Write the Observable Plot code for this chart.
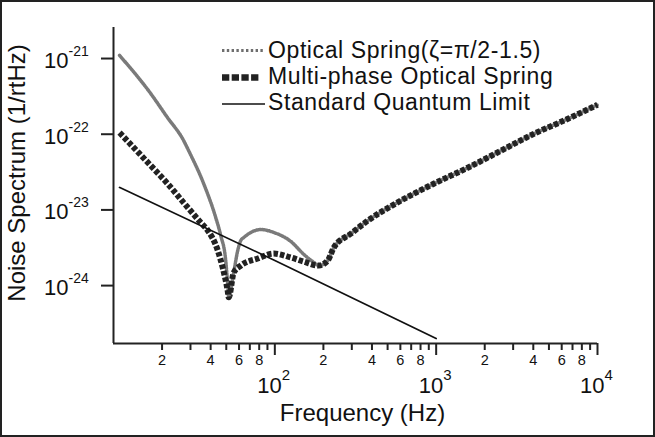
<!DOCTYPE html>
<html><head><meta charset="utf-8">
<script src="https://cdn.jsdelivr.net/npm/d3@7"></script>
<script src="https://cdn.jsdelivr.net/npm/@observablehq/plot@0.6"></script>
<style>
html,body{margin:0;padding:0;background:#fff;}
#wrap{position:relative;width:655px;height:437px;overflow:hidden;font-family:"Liberation Sans",Arial,Helvetica,sans-serif;}
#wrap svg{display:block;}
#legend{position:absolute;left:0;top:0;pointer-events:none;}
#border{position:absolute;left:0;top:0;width:655px;height:437px;box-sizing:border-box;border:2px solid #222;pointer-events:none;}
</style></head><body>
<div id="wrap"><div id="chart"></div><svg id="legend" width="655" height="437"></svg><div id="border"></div></div>
<script>
// Optical Spring (zeta = pi/2 - 1.5)
const freqOS = [10.9, 17, 21.6, 27.2, 29.2, 36.2, 43.0, 46.2, 49.6, 51.0, 51.8, 55.6, 58.9, 61.5, 64.2, 71.0, 81.8, 98.6, 125.7, 151.4, 174.7, 187.6, 213, 232, 297, 378, 606, 972, 1580, 2535, 4063, 6607, 10000];
const specOS = [1.10e-21, 3.45e-22, 1.66e-22, 8.26e-23, 6.09e-23, 2.23e-23, 7.94e-24, 4.6e-24, 2.15e-24, 1.07e-24, 7.1e-25, 1.49e-24, 2.91e-24, 3.94e-24, 4.32e-24, 5.03e-24, 5.51e-24, 5.03e-24, 3.83e-24, 2.58e-24, 2.02e-24, 1.84e-24, 2.15e-24, 3.18e-24, 4.88e-24, 7.24e-24, 1.33e-23, 2.23e-23, 3.63e-23, 6.09e-23, 1.02e-22, 1.61e-22, 2.45e-22];
// Multi-phase Optical Spring
const freqMP = [10.9, 13.7, 17, 21.6, 27.2, 34.7, 38.4, 44.3, 47.5, 51.0, 51.8, 55.6, 61.5, 78.4, 98.6, 125.7, 151.4, 187.6, 213, 232, 297, 378, 606, 972, 1580, 2535, 4063, 6607, 10000];
const specMP = [1.05e-22, 6.28e-23, 3.86e-23, 2.23e-23, 1.25e-23, 6.82e-24, 5.35e-24, 2.91e-24, 1.73e-24, 8.6e-25, 7.0e-25, 1.49e-24, 1.84e-24, 2.28e-24, 2.65e-24, 2.35e-24, 2.07e-24, 1.84e-24, 2.15e-24, 3.18e-24, 4.88e-24, 7.24e-24, 1.33e-23, 2.23e-23, 3.63e-23, 6.09e-23, 1.02e-22, 1.61e-22, 2.45e-22];
// Standard Quantum Limit
const freqSQL = [10.9, 100, 1000];
const specSQL = [1.98e-23, 2.15e-24, 2.0e-25];

const yTicks = [1e-21, 1e-22, 1e-23, 1e-24];
const yExp = ["-21", "-22", "-23", "-24"];
const xMajor = [100, 1000, 10000];
const xMajorExp = ["2", "3", "4"];
const xMinor = [20, 30, 40, 50, 60, 70, 80, 90, 200, 300, 400, 500, 600, 700, 800, 900, 2000, 3000, 4000, 5000, 6000, 7000, 8000, 9000];
const xMinorLabeled = [20, 40, 60, 80, 200, 400, 600, 800, 2000, 4000, 6000, 8000];
const xMinorText = ["2", "4", "6", "8", "2", "4", "6", "8", "2", "4", "6", "8"];

const seriesNames = ["Optical Spring(\u03B6=\u03C0/2-1.5)", "Multi-phase Optical Spring", "Standard Quantum Limit"];
const xLabel = "Frequency (Hz)";
const yLabel = "Noise Spectrum (1/rtHz)";

const font = '"Liberation Sans", Arial, Helvetica, sans-serif';
const rows = (f, s) => f.map((x, i) => ({f: x, s: s[i]}));
const ink = "#111";

const chart = Plot.plot({
  width: 655, height: 437,
  marginLeft: 113, marginRight: 58, marginTop: 27, marginBottom: 94,
  style: {fontFamily: font, background: "transparent", color: ink, overflow: "visible"},
  x: {type: "log", domain: [10, 10000]},
  y: {type: "log", domain: [Math.pow(10, -24.765), Math.pow(10, -20.59)]},
  marks: [
    Plot.axisY(yTicks, {tickSize: 12, tickFormat: () => "", stroke: "#222", strokeWidth: 2, label: null}),
    Plot.axisX(xMajor, {tickSize: 12, tickFormat: () => "", stroke: "#222", strokeWidth: 2, label: null}),
    Plot.axisX(xMinor, {tickSize: 7, tickFormat: () => "", stroke: "#222", strokeWidth: 2, label: null}),
    Plot.ruleX([10], {stroke: "#222", strokeWidth: 2}),
    Plot.ruleY([Math.pow(10, -24.765)], {stroke: "#222", strokeWidth: 2}),
    Plot.text(yTicks, {y: d => d, frameAnchor: "left", text: () => "10", textAnchor: "end", dx: -45, dy: 2.5, fontSize: 22, fill: ink}),
    Plot.text(yTicks.map((v, i) => ({v, e: yExp[i]})), {y: "v", frameAnchor: "left", text: "e", textAnchor: "start", dx: -45, dy: -7, fontSize: 14, fill: ink}),
    Plot.text(xMinorLabeled.map((v, i) => ({v, t: xMinorText[i]})), {x: "v", frameAnchor: "bottom", text: "t", textAnchor: "middle", dy: 21, fontSize: 14.5, fill: ink}),
    Plot.text(xMajor, {x: d => d, frameAnchor: "bottom", text: () => "10", textAnchor: "end", dx: 7, dy: 49, fontSize: 22, fill: ink}),
    Plot.text(xMajor.map((v, i) => ({v, e: xMajorExp[i]})), {x: "v", frameAnchor: "bottom", text: "e", textAnchor: "start", dx: 7, dy: 36.5, fontSize: 15, fill: ink}),
    Plot.text([xLabel], {frameAnchor: "bottom", text: d => d, textAnchor: "middle", dx: 7, dy: 77, fontSize: 24, fill: ink}),
    Plot.text([yLabel], {frameAnchor: "left", text: d => d, textAnchor: "middle", rotate: -90, dx: -96, dy: -12.5, fontSize: 24, fill: ink}),
    Plot.line(rows(freqOS, specOS), {x: "f", y: "s", stroke: "#7a7a7a", strokeWidth: 3.5, strokeDasharray: "1.3,1.3", curve: "monotone-x"}),
    Plot.line(rows(freqMP, specMP), {x: "f", y: "s", stroke: "#222", strokeWidth: 6, strokeDasharray: "4.5,2", strokeLinecap: "butt", curve: "monotone-x"}),
    Plot.line(rows(freqSQL, specSQL), {x: "f", y: "s", stroke: ink, strokeWidth: 1.7, curve: "monotone-x"})
  ]
});
document.getElementById("chart").appendChild(chart);

// legend
const lg = d3.select("#legend");
const legendStyles = [
  {stroke: "#6e6e6e", width: 3, dash: "2.4,2.4", x2: 263, ly: 50.5},
  {stroke: "#222", width: 6.5, dash: "7.3,2.4", x2: 259, ly: 77.5},
  {stroke: ink, width: 1.7, dash: null, x2: 265, ly: 104}
];
const baselines = [58, 84, 110];
seriesNames.forEach((name, i) => {
  const s = legendStyles[i];
  const l = lg.append("line").attr("x1", 222).attr("x2", s.x2).attr("y1", s.ly).attr("y2", s.ly)
    .attr("stroke", s.stroke).attr("stroke-width", s.width).attr("stroke-linecap", "butt");
  if (s.dash) l.attr("stroke-dasharray", s.dash);
  lg.append("text").attr("x", 268).attr("y", baselines[i]).attr("font-family", font)
    .attr("font-size", 23).attr("letter-spacing", "0.6px").attr("fill", ink).text(name);
});
</script>
</body></html>
